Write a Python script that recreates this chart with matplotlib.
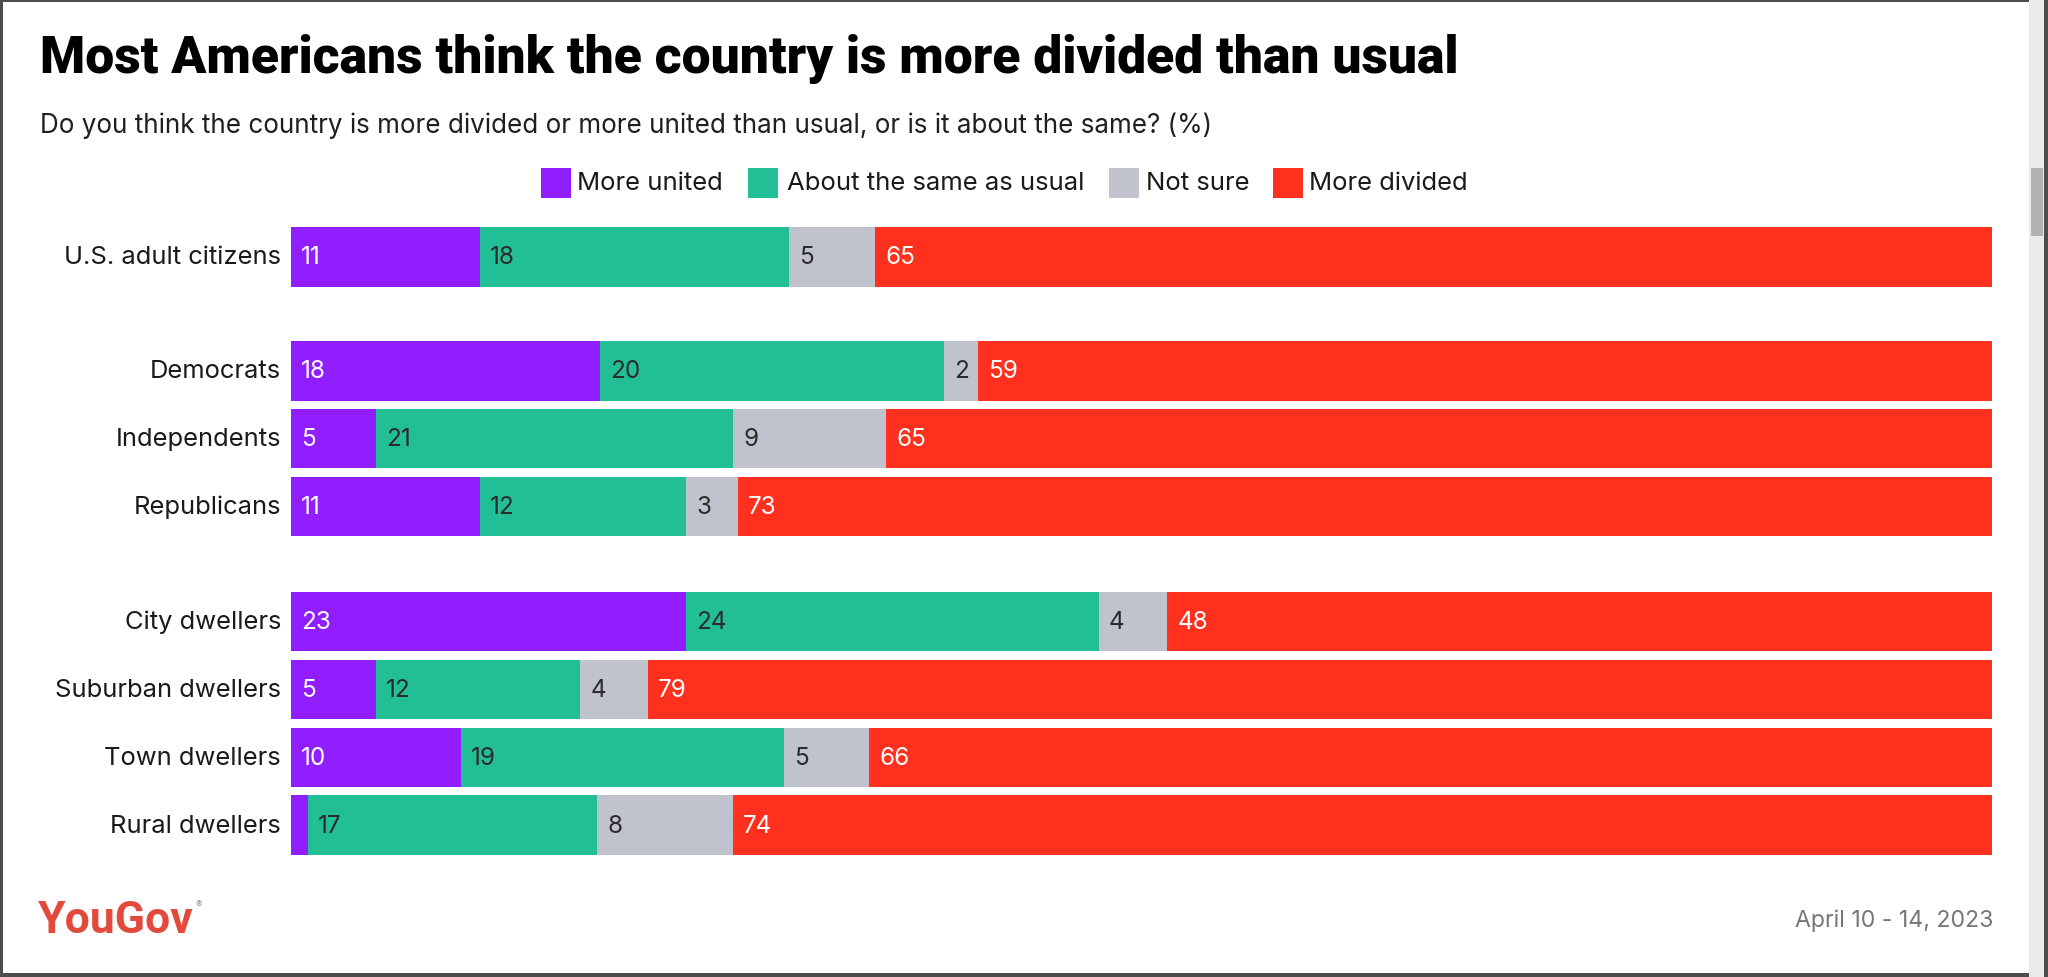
import matplotlib
matplotlib.use("Agg")
import matplotlib.pyplot as plt
from matplotlib.patches import Rectangle
import numpy as np

# ---------------- data ----------------
categories = ["U.S. adult citizens", "Democrats", "Independents", "Republicans",
              "City dwellers", "Suburban dwellers", "Town dwellers", "Rural dwellers"]
series = ["More united", "About the same as usual", "Not sure", "More divided"]
more_united = [11, 18, 5, 11, 23, 5, 10, 1]
about_same = [18, 20, 21, 12, 24, 12, 19, 17]
not_sure = [5, 2, 9, 3, 4, 4, 5, 8]
more_divided = [65, 59, 65, 73, 48, 79, 66, 74]
row_pos = [0, 1.68, 2.68, 3.68, 5.37, 6.37, 7.37, 8.37]

colors = ["#901EFF", "#22BE96", "#C0C3CD", "#FF311E"]
label_colors = ["white", "#2b2b2b", "#2b2b2b", "white"]

W, H = 2048, 978
fig = plt.figure(figsize=(W / 100, H / 100), dpi=100)
fig.patch.set_facecolor("white")

def fx(x):
    return x / W

def fy(y):
    return 1 - y / H

BODY = ["Inter", "Roboto", "DejaVu Sans"]

# ---------------- axes ----------------
unit = 67.9
top_px = 258 - 0.6 * unit
bot_px = 826 + 0.6 * unit
ax_left, ax_right = 291, 1992
ax = fig.add_axes([fx(ax_left), fy(bot_px), (ax_right - ax_left) / W, (bot_px - top_px) / H])
ax.set_xlim(0, 100)
ax.set_ylim(8.37 + 0.6, -0.6)
ax.axis("off")

data = np.array([more_united, about_same, not_sure, more_divided], dtype=float)
totals = data.sum(axis=0)
widths = data / totals * 100
lefts = np.vstack([np.zeros(len(categories)), np.cumsum(widths, axis=0)[:-1]])

bar_h = 0.87
pad = 10 / 17.01
for s in range(4):
    ax.barh(row_pos, widths[s], left=lefts[s], height=bar_h, color=colors[s],
            edgecolor="none", label=series[s])
    for i in range(len(categories)):
        v = data[s, i]
        if v >= 2:
            ax.text(lefts[s, i] + pad, row_pos[i], f"{int(v)}", va="center", ha="left",
                    fontsize=17, color=label_colors[s], family=BODY)

for i, c in enumerate(categories):
    ax.text(-10 / 17.01, row_pos[i], c, va="center", ha="right", fontsize=18,
            color="#1a1a1a", family=BODY)

fig.canvas.draw()
renderer = fig.canvas.get_renderer()

def fit(t, target):
    w = t.get_window_extent(renderer).width
    t.set_fontsize(t.get_fontsize() * target / w)

# fit category label size
probe = ax.texts[-len(categories)]
w0 = probe.get_window_extent(renderer).width
scale = 217 / w0
for t in ax.texts[-len(categories):]:
    t.set_fontsize(t.get_fontsize() * scale)
for t in ax.texts[:-len(categories)]:
    t.set_fontsize(18 * scale * 0.95)

# ---------------- titles ----------------
title = fig.text(fx(40), fy(73), "Most Americans think the country is more divided than usual",
                 ha="left", va="baseline", fontsize=36, fontweight="black",
                 family=["Roboto", "DejaVu Sans"], color="black")
fit(title, 1419)
sub = fig.text(fx(40), fy(133), "Do you think the country is more divided or more united than usual, or is it about the same? (%)",
               ha="left", va="baseline", fontsize=18, family=BODY, color="#1f1f1f")
fit(sub, 1168)

# ---------------- legend ----------------
patch_x = [541, 748, 1109, 1273]
text_x = [577, 787, 1146, 1309]
leg_texts = []
for k in range(4):
    fig.add_artist(Rectangle((fx(patch_x[k]), fy(199)), 30 / W, 30 / H,
                             transform=fig.transFigure, facecolor=colors[k], edgecolor="none"))
    t = fig.text(fx(text_x[k]), fy(184), series[k], ha="left", va="center",
                 fontsize=18, family=BODY, color="#1a1a1a")
    leg_texts.append(t)
fit(leg_texts[1], 297)
for t in leg_texts:
    t.set_fontsize(leg_texts[1].get_fontsize())

# ---------------- footer ----------------
logo = fig.text(fx(38), fy(933), "YouGov", ha="left", va="baseline", fontsize=30,
                fontweight="bold", family=["Roboto", "DejaVu Sans"], color="#E24A3B")
fit(logo, 155)
fig.text(fx(196), fy(905), "®", ha="left", va="center", fontsize=7, color="#999999",
         family=BODY)
date = fig.text(fx(1993), fy(927), "April 10 - 14, 2023", ha="right", va="baseline",
                fontsize=17, family=BODY, color="#777777")
fit(date, 198)

# ---------------- screenshot frame ----------------
frame = "#4d4d4d"
fig.add_artist(Rectangle((0, 0), 3 / W, 1, transform=fig.transFigure, facecolor=frame, edgecolor="none"))
fig.add_artist(Rectangle((0, fy(3)), 1, 3 / H, transform=fig.transFigure, facecolor=frame, edgecolor="none"))
fig.add_artist(Rectangle((0, 0), 1, 4 / H, transform=fig.transFigure, facecolor=frame, edgecolor="none"))
fig.add_artist(Rectangle((fx(2029), 0), 15 / W, 1, transform=fig.transFigure, facecolor="#ebebeb", edgecolor="none"))
fig.add_artist(Rectangle((fx(2031), fy(237)), 12 / W, 68 / H, transform=fig.transFigure, facecolor="#b2b2b2", edgecolor="none"))
fig.add_artist(Rectangle((fx(2044), 0), 4 / W, 1, transform=fig.transFigure, facecolor=frame, edgecolor="none"))

fig.savefig("out.png", dpi=100, facecolor="white")
